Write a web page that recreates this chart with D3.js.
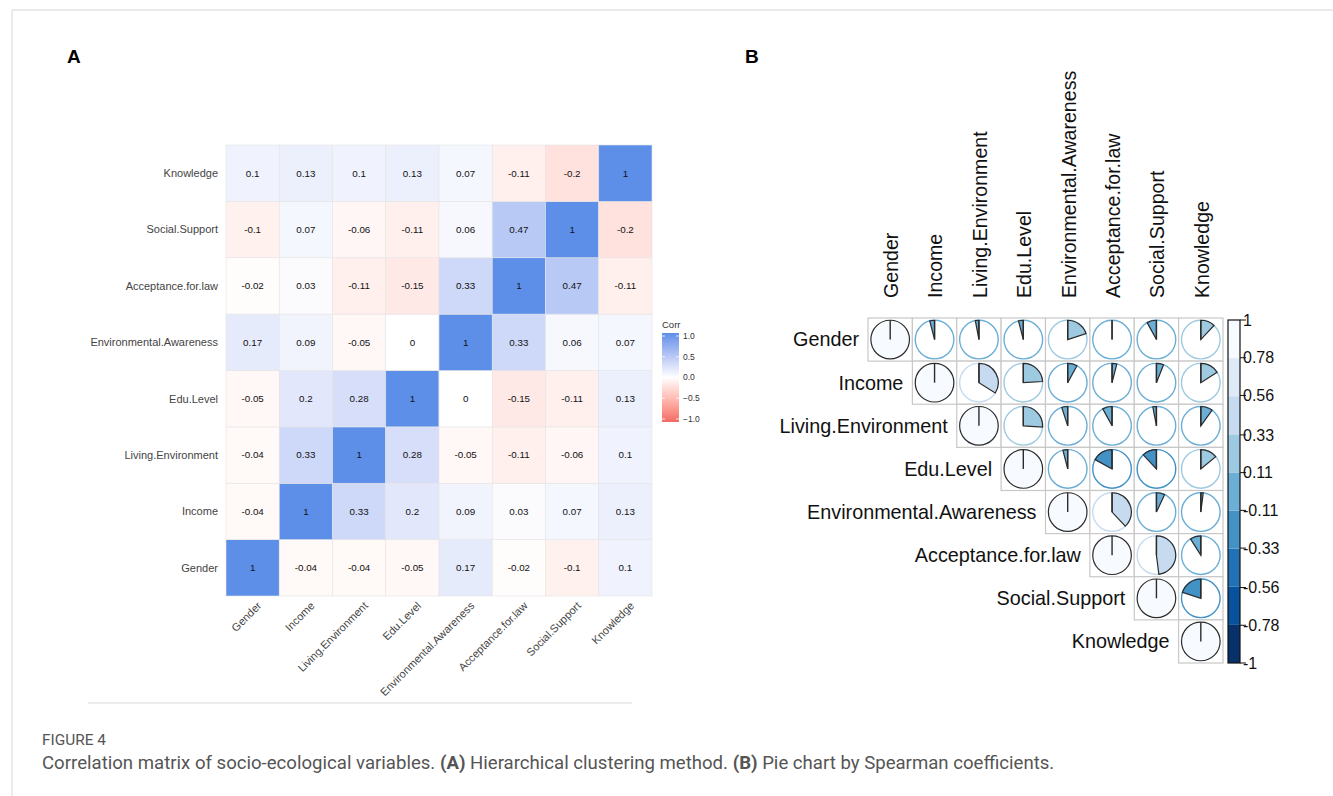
<!DOCTYPE html>
<html>
<head>
<meta charset="utf-8">
<script src="https://cdn.jsdelivr.net/npm/d3@7"></script>
<style>
  body { margin: 0; background: #fff; }
  svg { display: block; }
</style>
</head>
<body>
<svg id="fig" width="1333" height="796"></svg>
<script>
// variable names (same order for both panels)
const vars = ['Gender', 'Income', 'Living.Environment', 'Edu.Level',
  'Environmental.Awareness', 'Acceptance.for.law', 'Social.Support', 'Knowledge'];

// panel A: Pearson correlations (rows follow vars)
const pearson = [
  [1, -0.04, -0.04, -0.05, 0.17, -0.02, -0.1, 0.1],
  [-0.04, 1, 0.33, 0.2, 0.09, 0.03, 0.07, 0.13],
  [-0.04, 0.33, 1, 0.28, -0.05, -0.11, -0.06, 0.1],
  [-0.05, 0.2, 0.28, 1, 0, -0.15, -0.11, 0.13],
  [0.17, 0.09, -0.05, 0, 1, 0.33, 0.06, 0.07],
  [-0.02, 0.03, -0.11, -0.15, 0.33, 1, 0.47, -0.11],
  [-0.1, 0.07, -0.06, -0.11, 0.06, 0.47, 1, -0.2],
  [0.1, 0.13, 0.1, 0.13, 0.07, -0.11, -0.2, 1]
];

// panel B: Spearman correlations, upper triangle (null = not drawn)
const spearman = [
  [1, -0.04, -0.03, -0.04, 0.2, 0, -0.08, 0.12],
  [null, 1, 0.34, 0.24, 0.08, 0.04, 0.06, 0.16],
  [null, null, 1, 0.26, -0.05, -0.08, -0.03, 0.1],
  [null, null, null, 1, -0.04, -0.17, -0.12, 0.14],
  [null, null, null, null, 1, 0.38, 0.07, 0.02],
  [null, null, null, null, null, 1, 0.48, -0.09],
  [null, null, null, null, null, null, 1, -0.2],
  [null, null, null, null, null, null, null, 1]
];

const legendATicks = [1, 0.5, 0, -0.5, -1];
const legendBTicks = [1, 0.78, 0.56, 0.33, 0.11, -0.11, -0.33, -0.56, -0.78, -1];
const blues = ['#08306B', '#08519C', '#2171B5', '#4292C6', '#6BAED6',
  '#9ECAE1', '#C6DBEF', '#DEEBF7', '#F7FBFF'];

const svg = d3.select('#fig');
const font = 'Liberation Sans, Arial, sans-serif';

// frame lines of the figure page
svg.append('line').attr('x1', 12).attr('x2', 1333).attr('y1', 10).attr('y2', 10)
  .attr('stroke', '#d6d6d6');
svg.append('line').attr('x1', 12).attr('x2', 12).attr('y1', 10).attr('y2', 796)
  .attr('stroke', '#d6d6d6');

// panel letters
svg.append('text').attr('x', 67).attr('y', 63).text('A')
  .attr('font-family', font).attr('font-weight', 'bold').attr('font-size', 19);
svg.append('text').attr('x', 745).attr('y', 63).text('B')
  .attr('font-family', font).attr('font-weight', 'bold').attr('font-size', 19);

// ---------- Panel A: heatmap ----------
const xA = d3.scaleBand().domain(vars).range([226, 652]);
const yA = d3.scaleBand().domain(vars).range([596, 145]);
const colorA = d3.scaleLinear().domain([-1, 0, 1])
  .range(['#F26A64', '#ffffff', '#5D8FE8']).interpolate(d3.interpolateLab);

const gA = svg.append('g');
const cellsA = [];
vars.forEach((r, i) => vars.forEach((c, j) => cellsA.push({ r, c, v: pearson[i][j] })));

gA.selectAll('rect').data(cellsA).join('rect')
  .attr('x', d => xA(d.c)).attr('y', d => yA(d.r))
  .attr('width', xA.bandwidth()).attr('height', yA.bandwidth())
  .attr('fill', d => colorA(d.v))
  .attr('stroke', '#e4e4e4').attr('stroke-width', 0.6);

gA.selectAll('text.val').data(cellsA).join('text').attr('class', 'val')
  .attr('x', d => xA(d.c) + xA.bandwidth() / 2)
  .attr('y', d => yA(d.r) + yA.bandwidth() / 2)
  .attr('dy', '0.35em').attr('text-anchor', 'middle')
  .attr('font-family', font).attr('font-size', 9.8).attr('fill', '#111')
  .text(d => d.v);

gA.selectAll('text.row').data(vars).join('text').attr('class', 'row')
  .attr('x', 218).attr('y', d => yA(d) + yA.bandwidth() / 2)
  .attr('dy', '0.35em').attr('text-anchor', 'end')
  .attr('font-family', font).attr('font-size', 11).attr('fill', '#444')
  .text(d => d);

gA.selectAll('text.col').data(vars).join('text').attr('class', 'col')
  .attr('transform', d => `translate(${xA(d) + xA.bandwidth() / 2 + 4},${601}) rotate(-45)`)
  .attr('dy', '0.7em').attr('text-anchor', 'end')
  .attr('font-family', font).attr('font-size', 11).attr('fill', '#444')
  .text(d => d);

// faint bottom edge below panel A
svg.append('line').attr('x1', 88).attr('x2', 632).attr('y1', 703).attr('y2', 703)
  .attr('stroke', '#ececec').attr('stroke-width', 2);

// legend A
const legY = d3.scaleLinear().domain([-1, 1]).range([419, 336]);
const defs = svg.append('defs');
const grad = defs.append('linearGradient').attr('id', 'gradA')
  .attr('x1', 0).attr('x2', 0).attr('y1', 1).attr('y2', 0);
d3.range(0, 1.0001, 0.1).forEach(t => {
  grad.append('stop').attr('offset', t).attr('stop-color', colorA(-1 + 2 * t));
});
svg.append('text').attr('x', 662).attr('y', 328).text('Corr')
  .attr('font-family', font).attr('font-size', 9.5).attr('fill', '#333');
svg.append('rect').attr('x', 662).attr('y', 333).attr('width', 17).attr('height', 89)
  .attr('fill', 'url(#gradA)');
svg.selectAll('line.legtick').data(legendATicks).join('line').attr('class', 'legtick')
  .attr('x1', 662).attr('x2', 665).attr('y1', d => legY(d)).attr('y2', d => legY(d))
  .attr('stroke', '#fff').attr('stroke-width', 0.8);
svg.selectAll('line.legtick2').data(legendATicks).join('line').attr('class', 'legtick2')
  .attr('x1', 676).attr('x2', 679).attr('y1', d => legY(d)).attr('y2', d => legY(d))
  .attr('stroke', '#fff').attr('stroke-width', 0.8);
svg.selectAll('text.legA').data(legendATicks).join('text').attr('class', 'legA')
  .attr('x', 683).attr('y', d => legY(d)).attr('dy', '0.35em')
  .attr('font-family', font).attr('font-size', 8.5).attr('fill', '#333')
  .text(d => d3.format('.1f')(d));

// ---------- Panel B: pie correlogram ----------
const xB = d3.scaleBand().domain(vars).range([868, 1223]);
const yB = d3.scaleBand().domain(vars).range([318, 663]);
const colorB = d3.scaleQuantize().domain([-1, 1]).range(blues);
const rad = 19.3;

const cellsB = [];
vars.forEach((r, i) => vars.forEach((c, j) => {
  if (spearman[i][j] !== null) cellsB.push({ r, c, v: spearman[i][j], diag: i === j });
}));

const gB = svg.append('g');
gB.selectAll('rect').data(cellsB).join('rect')
  .attr('x', d => xB(d.c)).attr('y', d => yB(d.r))
  .attr('width', xB.bandwidth()).attr('height', yB.bandwidth())
  .attr('fill', '#fff').attr('stroke', '#c8c8c8').attr('stroke-width', 1.2);

const arc = d3.arc().innerRadius(0).outerRadius(rad);
const pie = gB.selectAll('g.pie').data(cellsB).join('g').attr('class', 'pie')
  .attr('transform', d => `translate(${xB(d.c) + xB.bandwidth() / 2},${yB(d.r) + yB.bandwidth() / 2})`);

pie.append('circle').attr('r', rad)
  .attr('fill', '#fff').attr('stroke', d => colorB(d.v)).attr('stroke-width', 1.4);

pie.append('path')
  .attr('d', d => {
    const a = 2 * Math.PI * d.v;
    return a >= 0 ? arc({ startAngle: 0, endAngle: a }) : arc({ startAngle: a, endAngle: 0 });
  })
  .attr('fill', d => colorB(d.v)).attr('stroke', '#2b2b2b').attr('stroke-width', 1.2);

pie.append('line').attr('x1', 0).attr('y1', 0).attr('x2', 0).attr('y2', -rad)
  .attr('stroke', '#2b2b2b').attr('stroke-width', 1.4);

// row labels (to the left of each diagonal cell)
gB.selectAll('text.row').data(vars).join('text').attr('class', 'row')
  .attr('x', d => xB(d) - 9).attr('y', d => yB(d) + yB.bandwidth() / 2)
  .attr('dy', '0.35em').attr('text-anchor', 'end')
  .attr('font-family', font).attr('font-size', 19.8).attr('fill', '#111')
  .text(d => d);

// column labels (vertical)
gB.selectAll('text.col').data(vars).join('text').attr('class', 'col')
  .attr('transform', d => `translate(${xB(d) + xB.bandwidth() / 2 + 1},${298}) rotate(-90)`)
  .attr('dy', '0.35em').attr('text-anchor', 'start')
  .attr('font-family', font).attr('font-size', 19.6).attr('fill', '#111')
  .text(d => d);

// colour bar B
const cbY = d3.scaleLinear().domain([-1, 1]).range([663, 320]);
const bins = blues.map((col, i) => ({ lo: -1 + i * 2 / 9, hi: -1 + (i + 1) * 2 / 9, col }));
svg.selectAll('rect.cb').data(bins).join('rect').attr('class', 'cb')
  .attr('x', 1228).attr('width', 12)
  .attr('y', d => cbY(d.hi)).attr('height', d => cbY(d.lo) - cbY(d.hi))
  .attr('fill', d => d.col);
svg.append('rect').attr('x', 1228).attr('y', cbY(1)).attr('width', 12)
  .attr('height', cbY(-1) - cbY(1)).attr('fill', 'none').attr('stroke', '#111').attr('stroke-width', 1.2);
svg.selectAll('line.cbt').data(legendBTicks).join('line').attr('class', 'cbt')
  .attr('x1', 1240).attr('x2', 1246).attr('y1', d => cbY(d)).attr('y2', d => cbY(d))
  .attr('stroke', '#111').attr('stroke-width', 1);
svg.selectAll('text.cbl').data(legendBTicks).join('text').attr('class', 'cbl')
  .attr('x', 1243).attr('y', d => cbY(d)).attr('dy', '0.35em')
  .attr('font-family', font).attr('font-size', 16).attr('fill', '#111')
  .text(d => d);

// ---------- caption ----------
svg.append('text').attr('x', 42).attr('y', 745).text('FIGURE 4')
  .attr('font-family', 'Roboto, sans-serif').attr('font-size', 14).attr('fill', '#555')
  .attr('textLength', 64).attr('lengthAdjust', 'spacingAndGlyphs');
const cap = svg.append('text').attr('x', 42).attr('y', 769)
  .attr('font-family', 'Roboto, sans-serif').attr('font-size', 18.6).attr('fill', '#555');
cap.append('tspan').text('Correlation matrix of socio-ecological variables. ');
cap.append('tspan').attr('font-weight', 'bold').text('(A)');
cap.append('tspan').text(' Hierarchical clustering method. ');
cap.append('tspan').attr('font-weight', 'bold').text('(B)');
cap.append('tspan').text(' Pie chart by Spearman coefficients.');
</script>
</body>
</html>
